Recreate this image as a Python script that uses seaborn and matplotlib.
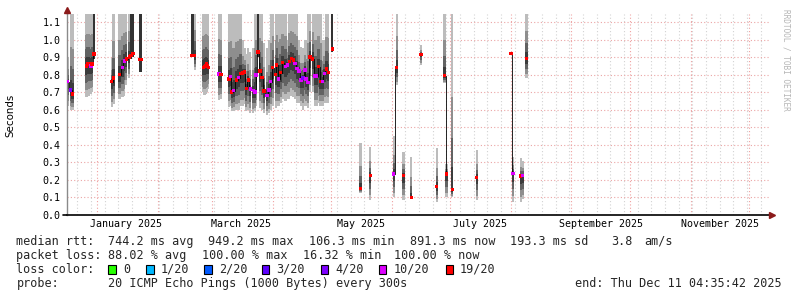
import numpy as np
import pandas as pd
import matplotlib
matplotlib.use("Agg")
import matplotlib.pyplot as plt
import matplotlib.dates as mdates
from matplotlib.patches import Rectangle
import seaborn as sns

# ---------------- data ----------------
times = [
    "2024-12-17 00:00", "2024-12-18 12:00", "2024-12-19 12:00",
    "2024-12-26 12:00", "2024-12-27 00:00", "2024-12-27 12:00", "2024-12-28 00:00",
    "2024-12-29 00:00", "2024-12-29 12:00", "2024-12-30 12:00",
    "2025-01-08 12:00", "2025-01-09 12:00",
    "2025-01-12 12:00", "2025-01-14 00:00", "2025-01-15 00:00", "2025-01-16 00:00",
    "2025-01-17 12:00", "2025-01-18 12:00", "2025-01-19 12:00",
    "2025-01-23 00:00", "2025-01-23 12:00",
    "2025-02-18 12:00", "2025-02-19 00:00", "2025-02-20 00:00",
    "2025-02-24 12:00", "2025-02-25 00:00", "2025-02-25 12:00", "2025-02-26 00:00",
    "2025-02-26 12:00", "2025-02-27 00:00",
    "2025-03-04 12:00", "2025-03-05 12:00", "2025-03-09 12:00", "2025-03-10 12:00",
    "2025-03-11 00:00", "2025-03-12 00:00", "2025-03-13 12:00", "2025-03-14 12:00",
    "2025-03-15 12:00", "2025-03-16 12:00", "2025-03-17 12:00", "2025-03-18 12:00",
    "2025-03-19 12:00", "2025-03-20 12:00", "2025-03-22 00:00", "2025-03-23 00:00",
    "2025-03-23 12:00", "2025-03-24 12:00", "2025-03-25 12:00", "2025-03-26 12:00",
    "2025-03-27 12:00", "2025-03-29 00:00", "2025-03-30 00:00", "2025-03-31 00:00",
    "2025-04-01 00:00", "2025-04-02 12:00", "2025-04-03 00:00", "2025-04-04 00:00",
    "2025-04-05 00:00", "2025-04-06 00:00", "2025-04-07 12:00", "2025-04-08 12:00",
    "2025-04-09 12:00", "2025-04-10 12:00", "2025-04-11 12:00", "2025-04-12 12:00",
    "2025-04-13 12:00", "2025-04-14 12:00", "2025-04-15 12:00", "2025-04-16 12:00",
    "2025-04-17 12:00", "2025-04-18 00:00", "2025-04-19 00:00", "2025-04-20 00:00",
    "2025-04-21 12:00", "2025-04-22 12:00", "2025-04-23 12:00", "2025-04-24 12:00",
    "2025-04-25 12:00", "2025-04-26 12:00", "2025-04-27 12:00", "2025-04-28 12:00",
    "2025-04-29 12:00", "2025-05-01 12:00",
    "2025-05-16 00:00", "2025-05-21 00:00", "2025-06-02 00:00", "2025-06-03 12:00",
    "2025-06-07 00:00", "2025-06-11 00:00", "2025-06-16 00:00", "2025-06-24 00:00",
    "2025-06-28 00:00", "2025-06-29 00:00", "2025-07-02 00:00", "2025-07-14 12:00",
    "2025-08-01 00:00", "2025-08-02 00:00", "2025-08-06 00:00", "2025-08-07 00:00",
    "2025-08-09 00:00",
]
median = [
    0.760, 0.712, 0.690,
    0.850, 0.860, 0.860, 0.860, 0.850, 0.860, 0.917,
    0.760, 0.780,
    0.800, 0.840, 0.877, 0.890, 0.900, 0.910, 0.920,
    0.887, 0.887,
    0.910, 0.910, 0.908,
    0.840, 0.845, 0.850, 0.860, 0.850, 0.840,
    0.804, 0.800, 0.775, 0.788, 0.700, 0.708, 0.770, 0.783,
    0.808, 0.810, 0.815, 0.722, 0.770, 0.718, 0.708, 0.700,
    0.798, 0.929, 0.821, 0.783, 0.707, 0.680, 0.712, 0.760,
    0.840, 0.800, 0.855, 0.775, 0.811, 0.868, 0.845, 0.855,
    0.874, 0.893, 0.883, 0.865, 0.836, 0.821, 0.770, 0.780,
    0.826, 0.775, 0.756, 0.900, 0.889, 0.792, 0.792, 0.845,
    0.760, 0.760, 0.808, 0.832, 0.813, 0.946,
    0.152, 0.224, 0.234, 0.840, 0.224, 0.100, 0.916, 0.161,
    0.794, 0.234, 0.146, 0.215, 0.920, 0.237, 0.222, 0.224,
    0.893,
]
smoke_lo = [
    0.62, 0.60, 0.60,
    0.675, 0.675, 0.68, 0.68, 0.69, 0.70, 0.89,
    0.615, 0.63,
    0.66, 0.67, 0.68, 0.74, 0.78, 0.89, 0.90,
    0.817, 0.817,
    0.90, 0.90, 0.826,
    0.70, 0.684, 0.69, 0.69, 0.70, 0.72,
    0.655, 0.66, 0.617, 0.62, 0.59, 0.59, 0.60, 0.60,
    0.62, 0.62, 0.63, 0.59, 0.60, 0.58, 0.58, 0.59,
    0.62, 0.90, 0.61, 0.60, 0.58, 0.57, 0.58, 0.60,
    0.62, 0.61, 0.64, 0.62, 0.64, 0.66, 0.65, 0.66,
    0.66, 0.68, 0.67, 0.66, 0.64, 0.64, 0.62, 0.60,
    0.62, 0.62, 0.61, 0.70, 0.70, 0.62, 0.62, 0.64,
    0.62, 0.62, 0.64, 0.64, 0.64, 0.93,
    0.125, 0.085, 0.10, 0.74, 0.085, 0.097, 0.855, 0.074,
    0.75, 0.10, 0.10, 0.085, 0.92, 0.074, 0.074, 0.09,
    0.78,
]
smoke_hi = [
    0.90, 1.20, 1.20,
    1.20, 1.20, 1.20, 1.20, 1.20, 1.20, 1.20,
    0.895, 1.20,
    1.20, 1.20, 1.20, 1.20, 1.20, 1.20, 1.20,
    1.20, 1.20,
    1.20, 1.20, 1.20,
    1.20, 1.20, 1.20, 1.20, 1.20, 1.20,
    1.20, 1.20, 1.20, 1.20, 1.20, 1.20, 1.20, 1.20,
    1.20, 1.00, 0.95, 0.92, 0.95, 0.93, 0.95, 1.20,
    1.20, 1.20, 1.20, 1.20, 0.98, 0.95, 1.00, 1.20,
    1.20, 1.20, 1.20, 1.20, 1.20, 1.20, 1.20, 1.00,
    1.20, 1.20, 1.20, 1.20, 1.20, 1.00, 0.96, 0.95,
    1.00, 1.00, 1.20, 1.20, 1.20, 1.20, 1.20, 1.20,
    1.20, 1.00, 1.00, 1.20, 1.20, 1.20,
    0.41, 0.389, 0.45, 1.20, 0.36, 0.33, 0.97, 0.38,
    1.20, 0.29, 1.20, 0.37, 0.92, 0.33, 0.325, 0.31,
    1.20,
]
R, M, P = "19/20", "10/20", "4/20"
loss = [
    M, P, R,
    R, R, R, R, M, R, R,
    R, R,
    R, M, M, R, R, R, R,
    R, R,
    R, R, R,
    R, R, R, R, R, R,
    M, R, R, M, R, M, R, M,
    R, R, R, R, R, M, M, M,
    M, R, R, R, R, M, M, M,
    R, R, R, M, R, R, M, M,
    R, R, R, M, M, M, M, P,
    M, M, M, R, R, M, M, R,
    R, M, M, R, R, R,
    R, R, M, R, R, R, R, R,
    R, R, R, R, R, M, R, M,
    R,
]
dark = [
    0, 0, 0,
    0, 0, 0, 0, 0, 0, 1,
    0, 0,
    0, 0, 0, 0, 0, 1, 1,
    1, 1,
    1, 1, 0,
    0, 0, 0, 0, 0, 0,
    0, 0, 0, 0, 0, 0, 0, 0,
    0, 0, 0, 0, 0, 0, 0, 0,
    0, 1, 0, 0, 0, 0, 0, 0,
    0, 0, 0, 0, 0, 0, 0, 0,
    0, 0, 0, 0, 0, 0, 0, 0,
    0, 0, 0, 0, 0, 0, 0, 0,
    0, 0, 0, 0, 0, 1,
    0, 0, 0, 0, 0, 0, 0, 0,
    0, 0, 0, 0, 0, 0, 0, 0,
    0,
]

loss_labels = ["0", "1/20", "2/20", "3/20", "4/20", "10/20", "19/20"]
loss_colors = ["#26ff00", "#00b8ff", "#0059ff", "#5e00ff", "#7e00ff", "#dd00ff", "#ff0000"]

y_ticks = [0.0, 0.1, 0.2, 0.3, 0.4, 0.5, 0.6, 0.7, 0.8, 0.9, 1.0, 1.1]
month_labels = ["January 2025", "March 2025", "May 2025", "July 2025",
                "September 2025", "November 2025"]
month_label_dates = ["2025-01-16", "2025-03-16", "2025-05-16", "2025-07-16",
                     "2025-09-16", "2025-11-16"]
x_start, x_end = "2024-12-16 15:00", "2025-12-11 04:35"

rtt_items = ["median rtt:", "744.2 ms avg", "949.2 ms max", "106.3 ms min",
             "891.3 ms now", "193.3 ms sd", "3.8", "am/s"]
loss_items = ["packet loss:", "88.02 % avg", "100.00 % max", "16.32 % min", "100.00 % now"]
probe_items = ["probe:", "20 ICMP Echo Pings (1000 Bytes) every 300s"]
end_text = "end: Thu Dec 11 04:35:42 2025"

# ---------------- figure ----------------
sns.set_theme(style="white")
plt.rcParams["font.family"] = ["DejaVu Sans Mono", "DejaVu Sans"]
W_PX, H_PX = 797, 297
fig = plt.figure(figsize=(W_PX / 100, H_PX / 100), dpi=100)
fig.patch.set_facecolor("white")

L, Rt, T, B = 67, 769, 14, 215
ax = fig.add_axes([L / W_PX, 1 - B / H_PX, (Rt - L) / W_PX, (B - T) / H_PX])
ax.set_facecolor("white")

tnum = mdates.date2num(pd.to_datetime(times))
m = np.array(median)
lo = np.array(smoke_lo)
hi = np.array(smoke_hi)
dk = np.array(dark, dtype=bool)

# smoke: layered bands from outer to inner
up_fracs = [1.0, 0.5, 0.28, 0.12]
dn_fracs = [1.0, 0.8, 0.55, 0.3]
grays = ["#bcbcbc", "#8e8e8e", "#626262", "#3c3c3c"]
bw = 1.15
nd = ~dk
for uf, df_, g in zip(up_fracs, dn_fracs, grays):
    bot = m - df_ * (m - lo)
    top = m + uf * (hi - m)
    ax.bar(tnum[nd], (top - bot)[nd], bottom=bot[nd], width=bw, color=g,
           linewidth=0, zorder=2)
ax.bar(tnum[dk], (hi - lo)[dk], bottom=lo[dk], width=bw, color="#333333",
       linewidth=0, zorder=2)

# median black connecting line (broken at gaps)
seg_start = 0
for i in range(1, len(tnum) + 1):
    if i == len(tnum) or tnum[i] - tnum[i - 1] > 1.6:
        if i - seg_start > 1:
            ax.plot(tnum[seg_start:i], m[seg_start:i], drawstyle="steps-mid",
                    color="black", lw=0.6, zorder=3)
        seg_start = i

df = pd.DataFrame({"t": tnum, "median": m, "loss": loss})
sns.scatterplot(data=df, x="t", y="median", hue="loss",
                palette=dict(zip(loss_labels, loss_colors)), marker="s", s=6,
                linewidth=0, legend=False, ax=ax, zorder=5)

# axes limits
x0, x1 = mdates.date2num(pd.Timestamp(x_start)), mdates.date2num(pd.Timestamp(x_end))
ax.set_xlim(x0, x1)
ax.set_ylim(0, 1.1456)
ax.set_xlabel("")
ax.set_ylabel("")

# grid
ax.xaxis.set_major_locator(mdates.MonthLocator())
ax.xaxis.set_minor_locator(mdates.WeekdayLocator(byweekday=mdates.SU))
ax.xaxis.set_major_formatter(plt.NullFormatter())
ax.xaxis.set_minor_formatter(plt.NullFormatter())
ax.set_yticks(y_ticks)
ax.set_yticklabels([f"{v:.1f}" for v in y_ticks])
ax.grid(False)
ax.grid(True, which="minor", axis="x", color="#d2d2d2", lw=0.8, linestyle=(0, (1, 2)), zorder=0)
ax.grid(True, which="major", axis="x", color="#f0a0a0", lw=0.8, linestyle=(0, (1, 2)), zorder=1)
ax.grid(True, which="major", axis="y", color="#eba5a5", lw=0.8, linestyle=(0, (1, 2)), zorder=1)
ax.set_axisbelow(True)

ax.tick_params(axis="x", which="major", length=3, direction="inout", color="#e06060", width=0.8)
ax.tick_params(axis="x", which="minor", length=2, direction="inout", color="#909090", width=0.6)
ax.tick_params(axis="y", which="major", length=3, direction="inout", color="#909090",
               width=0.8, labelsize=7.2, pad=3, labelcolor="black")

for s in ["top", "right"]:
    ax.spines[s].set_visible(False)
ax.spines["left"].set_color("#8a8a8a")
ax.spines["left"].set_linewidth(1.0)
ax.spines["bottom"].set_color("black")
ax.spines["bottom"].set_linewidth(1.2)

# arrows
ax.plot([0], [1.02], marker="^", color="#8b1a1a", ms=4.5, transform=ax.transAxes,
        clip_on=False, zorder=6)
ax.plot([0, 0], [1.0, 1.02], color="#8a8a8a", lw=1.0, transform=ax.transAxes, clip_on=False)
ax.plot([1.004], [0], marker=">", color="#8b1a1a", ms=4.5, transform=ax.transAxes,
        clip_on=False, zorder=6)
ax.plot([-0.006, 0], [0, 0], color="black", lw=1.2, transform=ax.transAxes, clip_on=False)

# month labels
for lab, d in zip(month_labels, month_label_dates):
    ax.text(mdates.date2num(pd.Timestamp(d)), -0.045, lab, transform=ax.get_xaxis_transform(),
            ha="center", va="center", fontsize=7.2, color="black")

# y label
fig.text(10 / W_PX, 1 - 115 / H_PX, "Seconds", rotation=90, ha="center", va="center",
         fontsize=7.4, family=["DejaVu Sans"], color="black")

# watermark
fig.text(786 / W_PX, 1 - 60 / H_PX, "RRDTOOL / TOBI OETIKER", rotation=270,
         ha="center", va="center", fontsize=5.6, color="#b5b5b5")

# legend / statistics
FS = 8.45
def fy(y):
    return 1 - y / H_PX

rtt_x = [16.4, 108.3, 208, 309, 410, 510, 611, 644]
for xx, s in zip(rtt_x, rtt_items):
    fig.text(xx / W_PX, fy(241.3), s, ha="left", va="center", fontsize=FS)
loss_x = [16.4, 108.3, 202, 303, 394.5]
for xx, s in zip(loss_x, loss_items):
    fig.text(xx / W_PX, fy(255.3), s, ha="left", va="center", fontsize=FS)
fig.text(16.4 / W_PX, fy(269.3), "loss color:", ha="left", va="center", fontsize=FS)
box_x = [108.3, 146.3, 204.4, 262.1, 320.9, 379.1, 445.6]
for bx, lab, col in zip(box_x, loss_labels, loss_colors):
    fig.patches.append(Rectangle((bx / W_PX, fy(273.7)), 7.3 / W_PX, 8.3 / H_PX,
                                 transform=fig.transFigure, facecolor=col,
                                 edgecolor="black", lw=0.8))
    fig.text((bx + 14.5) / W_PX, fy(269.3), lab, ha="left", va="center", fontsize=FS)
probe_x = [16.4, 108.3]
for xx, s in zip(probe_x, probe_items):
    fig.text(xx / W_PX, fy(283.2), s, ha="left", va="center", fontsize=FS)
fig.text(782 / W_PX, fy(283.2), end_text, ha="right", va="center", fontsize=FS)

fig.savefig("out.png", dpi=100, facecolor="white")
